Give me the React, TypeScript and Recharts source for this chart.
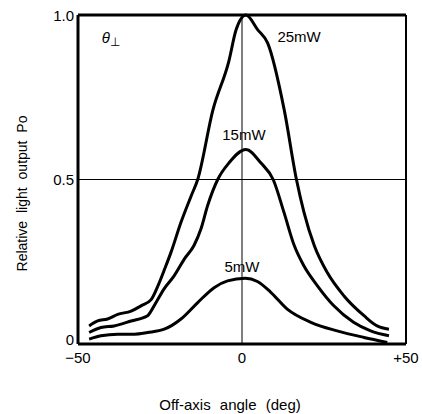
import React from "react";
import {
  LineChart,
  Line,
  XAxis,
  YAxis,
  ReferenceLine,
  ReferenceDot,
} from "recharts";

// 25 mW curve
const angle25 = [-46.6, -44, -41, -37.9, -33.8, -30.8, -27.7, -25.5, -23.5, -21.6, -18.6, -15.5, -13.5, -8.9, -4, -1.8, 1.2, 4.8, 7.8, 12.9, 16.6, 18.9, 22, 26, 31.1, 37.2, 41.2, 44.8];
const power25 = [0.055, 0.07, 0.076, 0.09, 0.1, 0.116, 0.135, 0.18, 0.23, 0.28, 0.37, 0.45, 0.5, 0.71, 0.86, 0.955, 1.0, 0.955, 0.915, 0.71, 0.5, 0.4, 0.3, 0.217, 0.146, 0.086, 0.055, 0.045];

// 15 mW curve
const angle15 = [-46.6, -43, -39, -33.8, -28.8, -26.8, -23.8, -20.7, -17.6, -14.6, -12.5, -10.5, -7.4, -4, 1.2, 5.8, 9.5, 12.8, 15.9, 18.9, 23, 28, 34, 39.2, 44.8];
const power15 = [0.035, 0.05, 0.055, 0.07, 0.086, 0.116, 0.167, 0.207, 0.258, 0.3, 0.35, 0.42, 0.5, 0.55, 0.591, 0.55, 0.5, 0.4, 0.3, 0.237, 0.177, 0.116, 0.066, 0.04, 0.025];

// 5 mW curve
const angle5 = [-46.6, -43, -37.9, -32.8, -28.8, -23.7, -18.6, -13.5, -8.4, -4.4, 1, 4.7, 8.7, 13.8, 21, 29, 37.2, 44.3];
const power5 = [0.015, 0.025, 0.03, 0.03, 0.035, 0.045, 0.076, 0.126, 0.172, 0.192, 0.2, 0.19, 0.158, 0.106, 0.066, 0.04, 0.02, 0.005];

const xTicks = [-50, 0, 50];
const xTickLabels = ["\u221250", "0", "+50"];
const yTicks = [0, 0.5, 1];
const yTickLabels = ["0", "0.5", "1.0"];

const noteText = ["25mW", "15mW", "5mW"];
const noteX = [17.4, 0.6, 0];
const noteY = [0.933, 0.636, 0.236];

const FONT = "'Liberation Sans', Arial, sans-serif";

const toPoints = (xs: number[], ys: number[]) => xs.map((angle, i) => ({ angle, power: ys[i] }));

const series = [
  { name: "25mW", data: toPoints(angle25, power25) },
  { name: "15mW", data: toPoints(angle15, power15) },
  { name: "5mW", data: toPoints(angle5, power5) },
];

function ThetaLabel(props: any) {
  const vb = props.viewBox || {};
  const cx = (vb.x ?? 0) + (vb.width ?? 0) / 2;
  const cy = (vb.y ?? 0) + (vb.height ?? 0) / 2;
  return (
    <text x={cx} y={cy + 5} textAnchor="middle" fontFamily={FONT} fontSize={15} fill="#000">
      <tspan fontStyle="italic">θ</tspan>
      <tspan fontSize={12} dy={3}>⊥</tspan>
    </text>
  );
}

function YTick(props: any) {
  const { x, y, payload } = props;
  const label = yTickLabels[yTicks.indexOf(payload.value)];
  const shift = payload.value === 0 ? -5 : 0;
  return (
    <text x={x} y={y + shift} textAnchor="end" dominantBaseline="central" fontFamily={FONT} fontSize={15} fill="#000">
      {label}
    </text>
  );
}

export default function App() {
  return (
    <div style={{ position: "absolute", left: 0, top: 0, width: 422, height: 414, background: "#fff" }}>
      <LineChart width={422} height={414} margin={{ top: 15, right: 16, left: 0, bottom: 0 }}>
        <XAxis
          dataKey="angle"
          type="number"
          domain={[-50, 50]}
          ticks={xTicks}
          tickFormatter={(v: number) => xTickLabels[xTicks.indexOf(v)]}
          allowDataOverflow
          height={70}
          tickSize={0}
          tickMargin={8}
          axisLine={{ stroke: "#000", strokeWidth: 3 }}
          tick={{ fill: "#000", fontSize: 15, fontFamily: FONT }}
          label={{
            content: (p: any) => {
              const vb = p.viewBox;
              return (
                <text x={vb.x + vb.width / 2 - 12} y={vb.y + 66} textAnchor="middle" fontFamily={FONT} fontSize={15} fill="#000" wordSpacing={5}>
                  Off-axis angle (deg)
                </text>
              );
            },
          }}
        />
        <YAxis
          type="number"
          domain={[0, 1]}
          ticks={yTicks}
          width={78}
          tickSize={0}
          tickMargin={4}
          axisLine={{ stroke: "#000", strokeWidth: 3 }}
          tick={<YTick />}
          label={{
            content: (p: any) => {
              const vb = p.viewBox;
              const x = vb.x + 22;
              const y = vb.y + vb.height / 2 + 14;
              return (
                <text x={x} y={y} transform={`rotate(-90, ${x}, ${y})`} textAnchor="middle" dominantBaseline="central" fontFamily={FONT} fontSize={14} fill="#000" wordSpacing={4}>
                  Relative light output Po
                </text>
              );
            },
          }}
        />
        <ReferenceLine y={1} stroke="#000" strokeWidth={3} />
        <ReferenceLine x={50} stroke="#000" strokeWidth={2} />
        <ReferenceLine y={0.5} stroke="#000" strokeWidth={1} />
        <ReferenceLine x={0} stroke="#000" strokeWidth={1} />
        {series.map((s) => (
          <Line
            key={s.name}
            data={s.data}
            dataKey="power"
            type="monotone"
            stroke="#000"
            strokeWidth={3}
            dot={false}
            isAnimationActive={false}
          />
        ))}
        {noteText.map((t, i) => (
          <ReferenceDot
            key={t}
            x={noteX[i]}
            y={noteY[i]}
            r={0}
            fill="none"
            stroke="none"
            label={{ value: t, position: "center", fill: "#000", fontSize: 15, fontFamily: FONT }}
          />
        ))}
        <ReferenceDot x={-40} y={0.93} r={0} fill="none" stroke="none" label={<ThetaLabel />} />
      </LineChart>
    </div>
  );
}
